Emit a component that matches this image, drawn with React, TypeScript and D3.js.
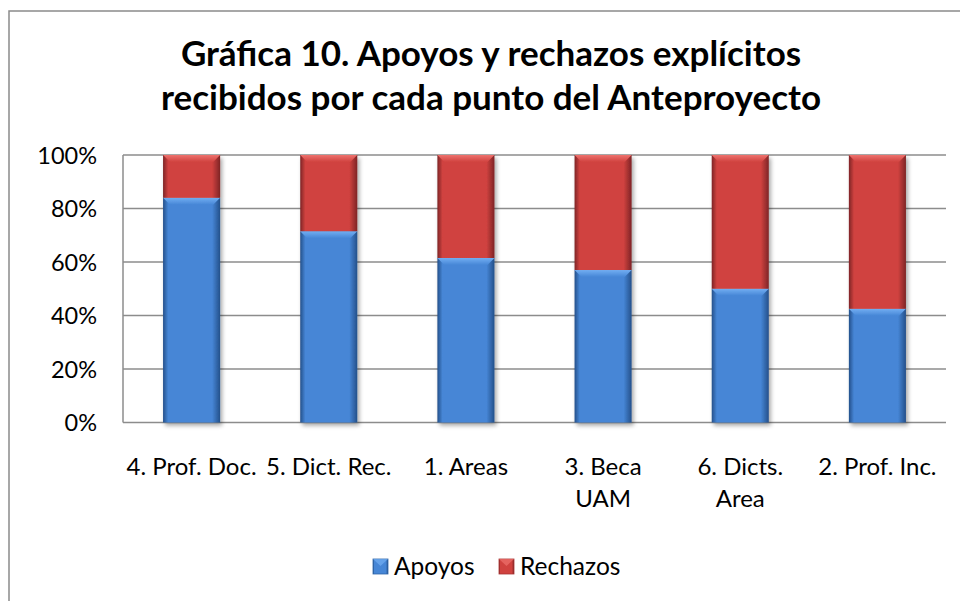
import React from 'react';
import * as d3 from 'd3';

// categorías tal como aparecen en el eje (\n = salto de línea)
const categories = ['4. Prof. Doc.', '5. Dict. Rec.', '1. Areas', '3. Beca\nUAM', '6. Dicts.\nArea', '2. Prof. Inc.'];
const apoyos = [84, 71.5, 61.5, 57, 50, 42.5];
const rechazos = [16, 28.5, 38.5, 43, 50, 57.5];
const seriesNames = ['Apoyos', 'Rechazos'];
const yTicks = [0, 20, 40, 60, 80, 100];
const titleLines = ['Gráfica 10. Apoyos y rechazos explícitos', 'recibidos por cada punto del Anteproyecto'];

const W = 960;
const H = 601;
const font = 'Lato, Carlito, Calibri, sans-serif';

const palette = {
  Apoyos: { edge: '#24508a', mid: '#4686d6', light: '#72aef2', dark: '#2f65a8' },
  Rechazos: { edge: '#7e2426', mid: '#d0423f', light: '#ee726e', dark: '#a83432' },
};

export default function App() {
  const plot = { left: 123, right: 946, top: 155, bottom: 422.5 };

  const x = d3.scaleBand<string>()
    .domain(categories)
    .range([plot.left, plot.right])
    .paddingInner(0.584)
    .paddingOuter(0.292);

  const y = d3.scaleLinear().domain([0, 100]).range([plot.bottom, plot.top]);

  const stack = d3.stack<any>().keys(seriesNames);
  const rows = categories.map((c, i) => ({ cat: c, Apoyos: apoyos[i], Rechazos: rechazos[i] }));
  const layers = stack(rows);

  const bevel = 7;

  return (
    <svg width={W} height={H} style={{ display: 'block', position: 'absolute', left: 0, top: 0 }}>
      <defs>
        {seriesNames.map(s => {
          const p = (palette as any)[s];
          return (
            <React.Fragment key={s}>
              <linearGradient id={`side-${s}`} x1="0" x2="1" y1="0" y2="0">
                <stop offset="0%" stopColor={p.edge} />
                <stop offset="9%" stopColor={p.mid} />
                <stop offset="86%" stopColor={p.mid} />
                <stop offset="100%" stopColor={p.edge} />
              </linearGradient>
              <linearGradient id={`top-${s}`} x1="0" x2="0" y1="0" y2="1">
                <stop offset="0%" stopColor={p.light} />
                <stop offset="100%" stopColor={p.mid} />
              </linearGradient>
            </React.Fragment>
          );
        })}
        <filter id="shadow" x="-20%" y="-10%" width="150%" height="130%">
          <feDropShadow dx="2" dy="3" stdDeviation="2" floodColor="#000" floodOpacity="0.35" />
        </filter>
      </defs>

      <rect x={0} y={0} width={W} height={H} fill="#fff" />
      {/* marco del gráfico */}
      <rect x={9} y={11} width={W + 20} height={H + 20} fill="none" stroke="#8a8a8a" strokeWidth={1.5} />

      {titleLines.map((t, i) => (
        <text key={i} x={491} y={66 + i * 44} textAnchor="middle" fontFamily={font} fontWeight="bold" fontSize={35} fill="#000">
          {t}
        </text>
      ))}

      {/* rejilla */}
      {yTicks.map(t => (
        <g key={t}>
          <line x1={plot.left} x2={plot.right} y1={y(t)} y2={y(t)} stroke="#8c8c8c" strokeWidth={1.5} />
          <text x={97} y={y(t) + 8.5} textAnchor="end" fontFamily={font} fontSize={23.5} fill="#000">{`${t}%`}</text>
        </g>
      ))}
      <line x1={plot.left} x2={plot.left} y1={plot.top} y2={plot.bottom} stroke="#8c8c8c" strokeWidth={1.5} />

      {/* barras */}
      <g filter="url(#shadow)">
        {layers.map(layer => {
          const s = layer.key;
          return layer.map((d, i) => {
            const cat = categories[i];
            const x0 = x(cat)!;
            const bw = x.bandwidth();
            const yTop = y(d[1]);
            const yBot = y(d[0]);
            const h = yBot - yTop;
            return (
              <g key={`${s}-${i}`}>
                <rect x={x0} y={yTop} width={bw} height={h} fill={`url(#side-${s})`} />
                <polygon
                  points={`${x0},${yTop} ${x0 + bw},${yTop} ${x0 + bw - bevel},${yTop + bevel} ${x0 + bevel},${yTop + bevel}`}
                  fill={`url(#top-${s})`}
                />
              </g>
            );
          });
        })}
      </g>

      {/* etiquetas de categoría */}
      {categories.map(c => (
        <text key={c} textAnchor="middle" fontFamily={font} fontSize={24} fill="#000">
          {c.split('\n').map((line, j) => (
            <tspan key={j} x={x(c)! + x.bandwidth() / 2} y={475 + j * 32}>{line}</tspan>
          ))}
        </text>
      ))}

      {/* leyenda */}
      {seriesNames.map((s, i) => {
        const lx = i === 0 ? 373 : 499;
        const p = (palette as any)[s];
        return (
          <g key={s}>
            <rect x={lx} y={559} width={15} height={15} fill={`url(#side-${s})`} stroke={p.dark} strokeWidth={0.8} />
            <polygon points={`${lx},${559} ${lx + 15},${559} ${lx + 7.5},${566}`} fill={p.light} opacity={0.7} />
            <text x={lx + 21} y={575} fontFamily={font} fontSize={24.5} fill="#000">{s}</text>
          </g>
        );
      })}
    </svg>
  );
}
